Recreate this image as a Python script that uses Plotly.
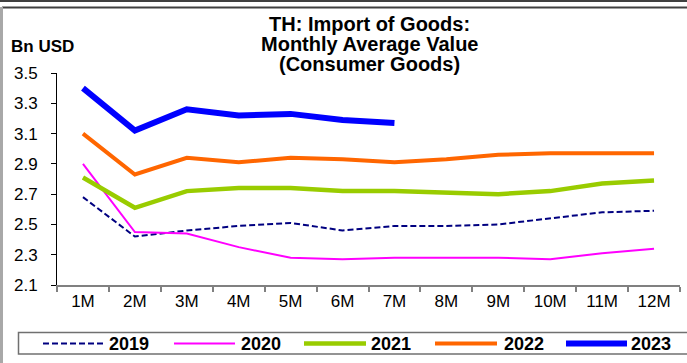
import plotly.graph_objects as go

# ---- data ----
months = ["1M", "2M", "3M", "4M", "5M", "6M", "7M", "8M", "9M", "10M", "11M", "12M"]
y2019 = [2.68, 2.42, 2.46, 2.49, 2.51, 2.46, 2.49, 2.49, 2.50, 2.54, 2.58, 2.59]
y2020 = [2.90, 2.45, 2.44, 2.35, 2.28, 2.27, 2.28, 2.28, 2.28, 2.27, 2.31, 2.34]
y2021 = [2.81, 2.61, 2.72, 2.74, 2.74, 2.72, 2.72, 2.71, 2.70, 2.72, 2.77, 2.79]
y2022 = [3.10, 2.83, 2.94, 2.91, 2.94, 2.93, 2.91, 2.93, 2.96, 2.97, 2.97, 2.97]
y2023 = [3.40, 3.12, 3.26, 3.22, 3.23, 3.19, 3.17]
series_names = ["2019", "2020", "2021", "2022", "2023"]
title_lines = ["TH: Import of Goods:", "Monthly Average Value", "(Consumer Goods)"]
y_unit = "Bn USD"

# ---- styles ----
series_values = [y2019, y2020, y2021, y2022, y2023]
colors = ["#000080", "#FF00FF", "#99CC00", "#FF6600", "#0000FF"]
widths = [2, 2, 4.5, 4, 6]
dashes = ["6px,3px", "solid", "solid", "solid", "solid"]

W, H = 687, 363
ML, MR, MT, MB = 57, 7, 73, 78
PW, PH = W - ML - MR, H - MT - MB
FONT = "Liberation Sans, Arial, sans-serif"


def xp(px):
    return (px - ML) / PW


def yp(py):
    return (H - MB - py) / PH


fig = go.Figure()
for name, vals, c, w, d in zip(series_names, series_values, colors, widths, dashes):
    fig.add_trace(go.Scatter(
        x=months[:len(vals)], y=vals, mode="lines", name=name,
        line=dict(color=c, width=w, dash=d), showlegend=False,
    ))

shapes = []
annotations = []

# outer frame lines
shapes.append(dict(type="line", xref="paper", yref="paper", x0=xp(0), x1=xp(W),
                   y0=yp(1), y1=yp(1), line=dict(color="#404040", width=2)))
shapes.append(dict(type="line", xref="paper", yref="paper", x0=xp(2), x1=xp(W),
                   y0=yp(7.5), y1=yp(7.5), line=dict(color="#404040", width=2)))
shapes.append(dict(type="line", xref="paper", yref="paper", x0=xp(1.5), x1=xp(1.5),
                   y0=yp(7), y1=yp(H), line=dict(color="#A8A8A8", width=3)))

# legend box
shapes.append(dict(type="rect", xref="paper", yref="paper", x0=xp(18.5), x1=xp(W + 5),
                   y0=yp(354), y1=yp(332.5), line=dict(color="#707070", width=1.5)))

leg_line_x = [(43, 103), (174, 235), (304, 366), (435, 497), (566, 627)]
leg_text_x = [108, 240, 370, 503, 630]
leg_y = 343.5
for name, c, w, d, (a, b), tx in zip(series_names, colors, widths, dashes, leg_line_x, leg_text_x):
    shapes.append(dict(type="line", xref="paper", yref="paper", x0=xp(a), x1=xp(b),
                       y0=yp(leg_y), y1=yp(leg_y), line=dict(color=c, width=w, dash=d)))
    annotations.append(dict(text="<b>%s</b>" % name, xref="paper", yref="paper",
                            x=xp(tx - 1), y=yp(leg_y), xanchor="left", yanchor="middle",
                            showarrow=False, font=dict(family=FONT, size=18, color="#000")))

# title lines
for line, cy in zip(title_lines, [24, 44, 64]):
    annotations.append(dict(text="<b>%s</b>" % line, xref="paper", yref="paper",
                            x=xp(369), y=yp(cy), xanchor="center", yanchor="middle",
                            showarrow=False, font=dict(family=FONT, size=20, color="#000")))

annotations.append(dict(text="<b>%s</b>" % y_unit, xref="paper", yref="paper",
                        x=xp(9), y=yp(46.5), xanchor="left", yanchor="middle",
                        showarrow=False, font=dict(family=FONT, size=17, color="#000")))

fig.update_layout(
    width=W, height=H,
    margin=dict(l=ML, r=MR, t=MT, b=MB, pad=0),
    paper_bgcolor="white", plot_bgcolor="white",
    font=dict(family=FONT, size=17, color="#000"),
    shapes=shapes, annotations=annotations,
    showlegend=False,
)
fig.update_xaxes(
    type="category", categoryorder="array", categoryarray=months,
    range=[-0.5, 11.5], tickson="boundaries", ticks="outside", ticklen=5,
    tickcolor="#808080", tickwidth=1.5, showline=True, linecolor="#808080", linewidth=1.5,
    showgrid=False, zeroline=False, tickfont=dict(size=17, family=FONT),
)
fig.update_yaxes(
    range=[2.1, 3.5], tick0=2.1, dtick=0.2, tickformat=".1f",
    ticks="outside", ticklen=5, tickcolor="#000", showline=True, linecolor="#000",
    linewidth=1, showgrid=False, zeroline=False, tickfont=dict(size=17, family=FONT),
    ticklabelstandoff=10,
)

fig.write_html(
    "out.html",
    config={"displayModeBar": False},
    post_script="document.body.style.margin='0';document.body.style.overflow='hidden';",
)
